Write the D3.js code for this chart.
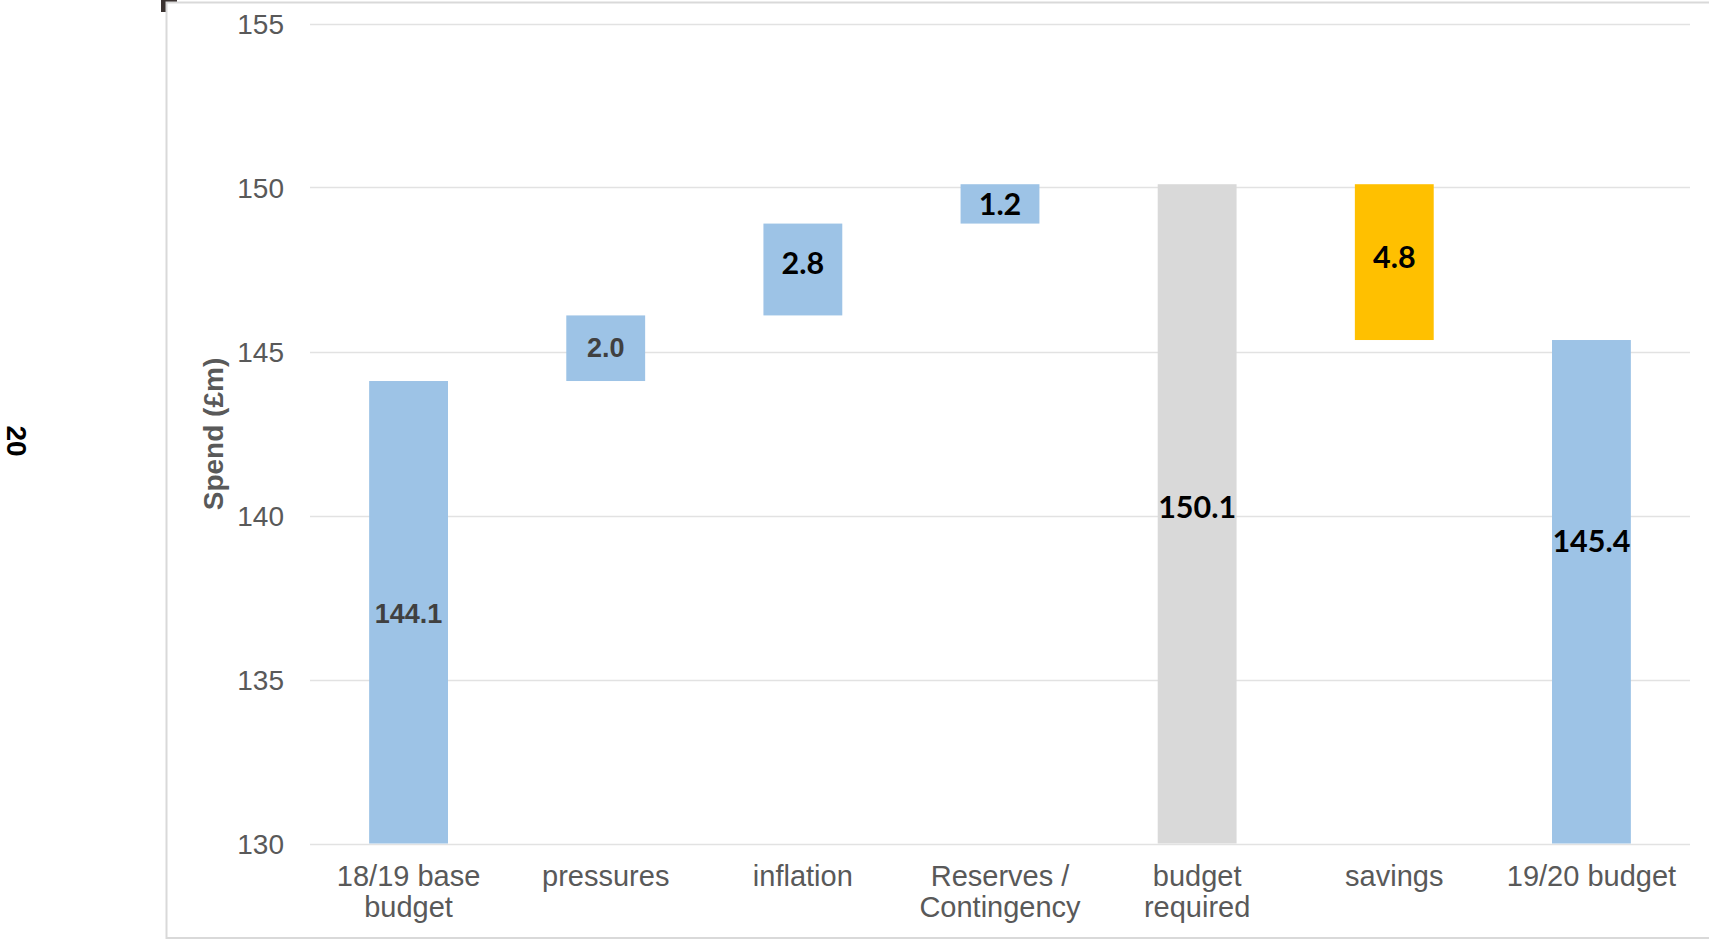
<!DOCTYPE html>
<html>
<head>
<meta charset="utf-8">
<script src="https://cdn.jsdelivr.net/npm/d3@7"></script>
<style>
  html, body { margin: 0; padding: 0; background: #fff; }
  svg { display: block; }
</style>
</head>
<body>
<svg id="chart" width="1709" height="940"></svg>
<script>
// ---- data ----
const categories = [["18/19 base", "budget"], ["pressures"], ["inflation"], ["Reserves /", "Contingency"], ["budget", "required"], ["savings"], ["19/20 budget"]];
const barLow  = [130, 144.1, 146.1, 148.9, 130, 145.35, 130];
const barHigh = [144.1, 146.1, 148.9, 150.1, 150.1, 150.1, 145.35];
const labels  = ["144.1", "2.0", "2.8", "1.2", "150.1", "4.8", "145.4"];
const labelAt = [137.0, 145.1, 147.72, 149.52, 140.3, 147.9, 139.25];
const barKind = ["blue", "blue", "blue", "blue", "grey", "orange", "blue"];
const yTicks  = [130, 135, 140, 145, 150, 155];
const yTitle  = "Spend (£m)";
const pageNo  = "20";

// ---- styles ----
const colors = { blue: "#9DC3E6", grey: "#D9D9D9", orange: "#FFC000" };

const svg = d3.select("#chart");

// background corner mark and chart frame
svg.append("rect").attr("x", 161).attr("y", 0).attr("width", 16).attr("height", 12).attr("fill", "#3b3331");
svg.append("rect").attr("x", 166.5).attr("y", 2.5).attr("width", 1600).attr("height", 935.5)
  .attr("fill", "#fff").attr("stroke", "#d9d9d9").attr("stroke-width", 2);

// page number
svg.append("text").attr("transform", "translate(16,441) rotate(90)")
  .attr("text-anchor", "middle").attr("dominant-baseline", "central")
  .attr("font-family", "Liberation Sans, Arial, sans-serif").attr("font-weight", "bold")
  .attr("font-size", 28).attr("fill", "#000").text(pageNo);

const x = d3.scaleBand().domain(d3.range(categories.length)).range([310, 1690]).paddingInner(0.6).paddingOuter(0.3);
const y = d3.scaleLinear().domain([130, 155]).range([843.5, 23.5]);

// gridlines
svg.append("g").selectAll("line").data(yTicks).join("line")
  .attr("x1", 310).attr("x2", 1690)
  .attr("y1", d => Math.round(y(d)) + 0.5).attr("y2", d => Math.round(y(d)) + 0.5)
  .attr("stroke", "#e2e2e2").attr("stroke-width", 1.5);

// y axis tick labels
const yAxis = d3.axisLeft(y).tickValues(yTicks).tickSize(0).tickPadding(0);
const gy = svg.append("g").attr("transform", "translate(284,0)").call(yAxis);
gy.select(".domain").remove();
gy.selectAll("text").attr("font-family", "Liberation Sans, Arial, sans-serif")
  .attr("font-size", 28).attr("fill", "#595959").attr("dy", "0.35em");

// y title
svg.append("text").attr("transform", "translate(213,434) rotate(-90)")
  .attr("text-anchor", "middle").attr("dominant-baseline", "central")
  .attr("font-family", "Liberation Sans, Arial, sans-serif").attr("font-weight", "bold")
  .attr("font-size", 28).attr("fill", "#595959").text(yTitle);

// bars
svg.append("g").selectAll("rect").data(d3.range(categories.length)).join("rect")
  .attr("x", i => x(i)).attr("width", x.bandwidth())
  .attr("y", i => y(barHigh[i])).attr("height", i => y(barLow[i]) - y(barHigh[i]))
  .attr("fill", i => colors[barKind[i]]);

// data labels
svg.append("g").selectAll("text").data(d3.range(categories.length)).join("text")
  .attr("x", i => x(i) + x.bandwidth() / 2)
  .attr("y", i => y(labelAt[i]))
  .attr("text-anchor", "middle").attr("dominant-baseline", "central")
  .attr("font-family", i => i < 2 ? "Liberation Sans, Arial, sans-serif" : "Lato, sans-serif")
  .attr("font-weight", "bold")
  .attr("font-size", i => i < 2 ? 27 : 30.5)
  .attr("fill", i => i < 2 ? "#404040" : "#000")
  .text(i => labels[i]);

// category labels
const cg = svg.append("g").selectAll("text").data(d3.range(categories.length)).join("text")
  .attr("x", i => x(i) + x.bandwidth() / 2)
  .attr("y", 876)
  .attr("text-anchor", "middle")
  .attr("font-family", "Liberation Sans, Arial, sans-serif")
  .attr("font-size", 29).attr("fill", "#595959");
cg.selectAll("tspan").data(i => categories[i]).join("tspan")
  .attr("x", function() { return d3.select(this.parentNode).attr("x"); })
  .attr("dy", (d, j) => j === 0 ? "0.35em" : "31px")
  .text(d => d);
</script>
</body>
</html>
